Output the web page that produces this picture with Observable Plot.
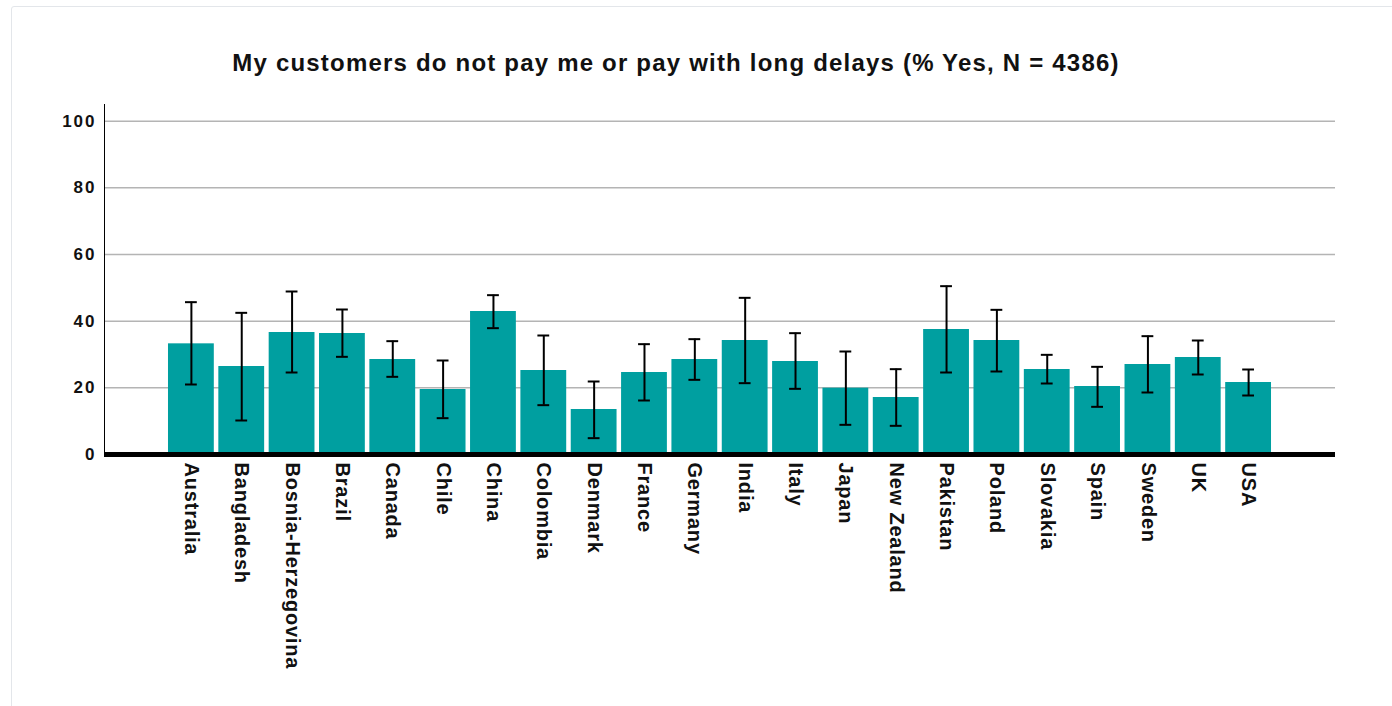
<!DOCTYPE html>
<html>
<head>
<meta charset="utf-8">
<script src="https://cdn.jsdelivr.net/npm/d3@7"></script>
<script src="https://cdn.jsdelivr.net/npm/@observablehq/plot@0.6"></script>
<style>
  html, body { margin: 0; padding: 0; background: #fff; overflow: hidden; }
  body { width: 1392px; height: 706px; position: relative; font-family: "Liberation Sans", Arial, Helvetica, sans-serif; }
  #box { position: absolute; left: 11px; top: 6px; width: 1420px; height: 740px; border: 1px solid #e3e6ea; border-radius: 3px; }
  #title { position: absolute; left: 0; width: 1352px; top: 49px; text-align: center; font-weight: bold; font-size: 24px; letter-spacing: 1.2px; color: #111; white-space: nowrap; }
  #chart { position: absolute; left: 0; top: 0; }
  #chart g[aria-label="x-axis tick label"] text { letter-spacing: 0.8px; }
  #chart g[aria-label="y-axis tick label"] text { letter-spacing: 2px; }
</style>
</head>
<body>
<div id="box"></div>
<div id="title">My customers do not pay me or pay with long delays (% Yes, N = 4386)</div>
<div id="chart"></div>
<script>
const countries = ["Australia","Bangladesh","Bosnia-Herzegovina","Brazil","Canada","Chile","China","Colombia","Denmark","France","Germany","India","Italy","Japan","New Zealand","Pakistan","Poland","Slovakia","Spain","Sweden","UK","USA"];
const pctYes = [33.2,26.4,36.6,36.3,28.5,19.5,42.9,25.2,13.5,24.6,28.5,34.2,27.9,19.9,17.1,37.5,34.2,25.5,20.4,27.0,29.1,21.6];
const ciLow  = [21.0,10.2,24.6,29.3,23.3,10.9,37.9,14.8,4.9,16.2,22.4,21.4,19.7,8.9,8.6,24.6,24.9,21.3,14.3,18.6,24.0,17.7];
const ciHigh = [45.7,42.5,48.9,43.5,34.0,28.2,47.8,35.7,21.9,33.1,34.6,47.0,36.4,30.9,25.6,50.5,43.4,29.9,26.3,35.5,34.2,25.5];
const yTicks = [0,20,40,60,80,100];

const data = countries.map((c, i) => ({country: c, value: pctYes[i], lo: ciLow[i], hi: ciHigh[i]}));

const chart = Plot.plot({
  width: 1392,
  height: 706,
  marginLeft: 104,
  marginRight: 57,
  marginTop: 104,
  marginBottom: 252,
  style: {fontFamily: '"Liberation Sans", Arial, Helvetica, sans-serif', background: "transparent"},
  x: {domain: countries, paddingInner: 0.09, paddingOuter: 1.271, round: false, label: null},
  y: {domain: [0, 105], label: null},
  marks: [
    Plot.ruleY(yTicks.filter(d => d > 0), {stroke: "#b4b4b4", strokeWidth: 1.5}),
    Plot.barY(data, {x: "country", y: "value", fill: "#009fa0"}),
    Plot.ruleX(data, {x: "country", y1: "lo", y2: "hi", stroke: "#000", strokeWidth: 2}),
    Plot.tickY(data, {x: "country", y: "lo", stroke: "#000", strokeWidth: 2, inset: 17}),
    Plot.tickY(data, {x: "country", y: "hi", stroke: "#000", strokeWidth: 2, inset: 17}),
    Plot.ruleY([0], {stroke: "#000", strokeWidth: 5}),
    Plot.frame({anchor: "left", stroke: "#000", strokeWidth: 1}),
    Plot.axisY({ticks: yTicks, tickSize: 0, tickPadding: 8, fontSize: 17, fontWeight: "bold", fill: "#111"}),
    Plot.axisX({tickSize: 0, tickPadding: 8, tickRotate: 90, fontSize: 20, fontWeight: "bold", fill: "#111", label: null})
  ]
});
document.getElementById("chart").appendChild(chart);
</script>
</body>
</html>
